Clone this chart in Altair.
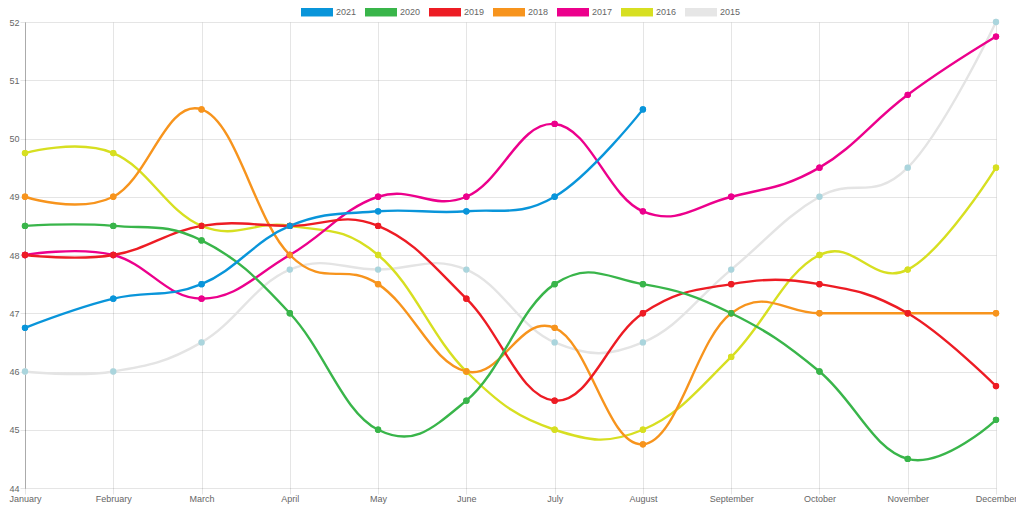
import altair as alt
import pandas as pd

months = ["January", "February", "March", "April", "May", "June", "July",
          "August", "September", "October", "November", "December"]
years = ["2021", "2020", "2019", "2018", "2017", "2016", "2015"]

v2021 = [46.75, 47.25, 47.5, 48.5, 48.75, 48.75, 49.0, 50.5]
v2020 = [48.5, 48.5, 48.25, 47.0, 45.0, 45.5, 47.5, 47.5, 47.0, 46.0, 44.5, 45.17]
v2019 = [48.0, 48.0, 48.5, 48.5, 48.5, 47.25, 45.5, 47.0, 47.5, 47.5, 47.0, 45.75]
v2018 = [49.0, 49.0, 50.5, 48.0, 47.5, 46.0, 46.75, 44.75, 47.0, 47.0, 47.0, 47.0]
v2017 = [48.0, 48.0, 47.25, 48.0, 49.0, 49.0, 50.25, 48.75, 49.0, 49.5, 50.75, 51.75]
v2016 = [49.75, 49.75, 48.5, 48.5, 48.0, 46.0, 45.0, 45.0, 46.25, 48.0, 47.75, 49.5]
v2015 = [46.0, 46.0, 46.5, 47.75, 47.75, 47.75, 46.5, 46.5, 47.75, 49.0, 49.5, 52.0]

line_colors = ["#0995da", "#39b54a", "#ed1c24", "#f7941d", "#ec008c", "#d7df21", "#e4e4e4"]
point_colors = ["#0995da", "#39b54a", "#ed1c24", "#f7941d", "#ec008c", "#d7df21", "#aad5dd"]
legend_colors = ["#0995da", "#39b54a", "#ed1c24", "#f7941d", "#ec008c", "#d7df21", "#e6e6e6"]

series = {"2021": v2021, "2020": v2020, "2019": v2019, "2018": v2018,
          "2017": v2017, "2016": v2016, "2015": v2015}

rows = []
# draw oldest first so newer series sit on top
for y in reversed(years):
    for i, val in enumerate(series[y]):
        rows.append({"month": months[i], "value": val, "year": y})
df = pd.DataFrame(rows)

FONT = "Liberation Sans"
GRID = "rgba(0,0,0,0.1)"

x_enc = alt.X("month:O", sort=months,
              scale=alt.Scale(type="point", padding=0, domain=months),
              axis=alt.Axis(title=None, labelAngle=0, grid=True, gridColor=GRID,
                            domain=False, tickSize=6, tickColor=GRID,
                            labelPadding=0, labelColor="#666", labelFontSize=9,
                            labelFont=FONT))
y_enc = alt.Y("value:Q",
              scale=alt.Scale(domain=[44, 52], nice=False, zero=False),
              axis=alt.Axis(title=None, values=list(range(44, 53)), grid=True,
                            gridColor=GRID, domain=True,
                            domainColor="rgba(0,0,0,0.25)", tickSize=5,
                            tickColor=GRID, labelPadding=1, labelColor="#666",
                            labelFontSize=9, labelFont=FONT))

base = alt.Chart(df)

# legend-carrying layer, hidden underneath the real points
legend_layer = base.mark_point(filled=True, size=40, opacity=1).encode(
    x=x_enc, y=y_enc,
    color=alt.Color("year:N", scale=alt.Scale(domain=years, range=legend_colors),
                    legend=alt.Legend(title=None, orient="none", direction="horizontal",
                                      legendX=276, legendY=-26,
                                      symbolType="M-1,-0.28H1V0.28H-1Z",
                                      symbolSize=1024, symbolOpacity=1,
                                      symbolStrokeWidth=0,
                                      labelOffset=3,
                                      columnPadding=8, labelFontSize=9,
                                      labelColor="#666", labelFont=FONT)),
)

lines = base.mark_line(interpolate="cardinal", tension=-0.2, strokeWidth=2.4).encode(
    x=x_enc, y=y_enc,
    stroke=alt.Stroke("year:N", scale=alt.Scale(domain=years, range=line_colors),
                      legend=None),
    detail="year:N",
)

points = base.mark_point(filled=True, size=40, opacity=1).encode(
    x=x_enc, y=y_enc,
    fill=alt.Fill("year:N", scale=alt.Scale(domain=years, range=point_colors),
                  legend=None),
)

chart = alt.layer(legend_layer, lines, points).properties(
    width=971, height=466,
    autosize=alt.AutoSizeParams(type="none"),
    padding={"left": 17, "top": 14, "right": 20, "bottom": 16},
).configure_view(stroke=None)

chart.save("out.html", embed_options={"renderer": "svg", "actions": False})
